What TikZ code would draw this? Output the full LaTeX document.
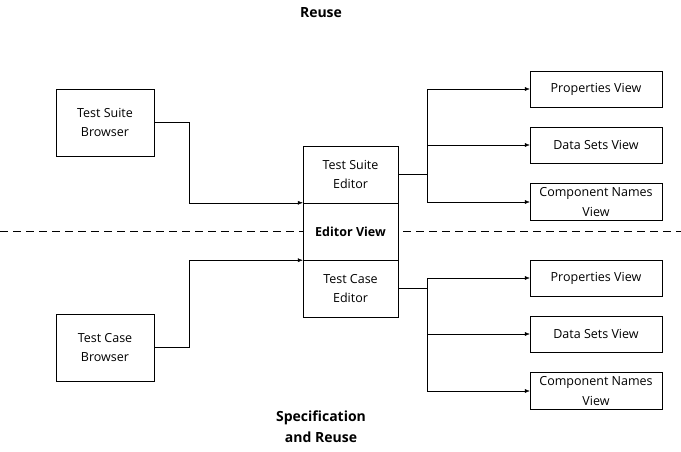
\documentclass[tikz,border=0pt]{standalone}
\usepackage{fontspec}
\setmainfont{Open Sans}
\usetikzlibrary{arrows.meta}

\tikzset{
	box/.style={rectangle, draw, thin, fill=white, inner sep=0pt, align=center, font=\fontsize{12.5}{19.5}\selectfont},
	arr/.style={-{Latex[length=5pt,width=4pt]}, thin}
}

\begin{document}
\begin{tikzpicture}[x=1pt,y=-1pt]
	\useasboundingbox (0,0) rectangle (681,452);

	\draw[dashed, dash pattern=on 8pt off 5pt]	(0,231)	--	(681,231);

	\node 	(title)		at	(321,13) 	[font=\fontsize{14}{21}\selectfont\bfseries]{Reuse};
	\node 	(spec)		at	(321,427) 	[align=center,font=\fontsize{14}{21}\selectfont\bfseries]{Specification\\and Reuse};

	\node 	(tsb)		at	(105,122.5) 	[box, minimum width=98pt, minimum height=67pt]{Test Suite\\Browser};
	\node 	(tcb)		at	(105,347.5) 	[box, minimum width=98pt, minimum height=67pt]{Test Case\\Browser};

	\node 	(tse)		at	(350.5,174.5) 	[box, minimum width=95pt, minimum height=57pt]{Test Suite\\Editor};
	\node 	(ev)		at	(350.5,231.5) 	[box, minimum width=95pt, minimum height=57pt, font=\fontsize{12.5}{19.5}\selectfont\bfseries]{Editor View};
	\node 	(tce)		at	(350.5,288.5) 	[box, minimum width=95pt, minimum height=57pt]{Test Case\\Editor};

	\node 	(pv1)		at	(596,89) 	[box, minimum width=132pt, minimum height=36pt]{Properties View};
	\node 	(dv1)		at	(596,145) 	[box, minimum width=132pt, minimum height=36pt]{Data Sets View};
	\node 	(cv1)		at	(596,202) 	[box, minimum width=132pt, minimum height=37pt]{Component Names\\View};

	\node 	(pv2)		at	(596,278) 	[box, minimum width=132pt, minimum height=36pt]{Properties View};
	\node 	(dv2)		at	(596,334) 	[box, minimum width=132pt, minimum height=36pt]{Data Sets View};
	\node 	(cv2)		at	(596,391) 	[box, minimum width=132pt, minimum height=37pt]{Component Names\\View};

	% browsers into the editor
	\draw[arr] (tsb.east)	--	++(35,0)	|-	(ev.north west);
	\draw[arr] (tcb.east)	--	++(35,0)	|-	(ev.south west);

	% editor out to the views
	\draw (tse.east)	--	++(29,0)	coordinate (s1);
	\draw[arr] (s1)	|-	(pv1.west);
	\draw[arr] (s1)	|-	(dv1.west);
	\draw[arr] (s1)	|-	(cv1.west);

	\draw (tce.east)	--	++(29,0)	coordinate (s2);
	\draw[arr] (s2)	|-	(pv2.west);
	\draw[arr] (s2)	|-	(dv2.west);
	\draw[arr] (s2)	|-	(cv2.west);

\end{tikzpicture}
\end{document}
